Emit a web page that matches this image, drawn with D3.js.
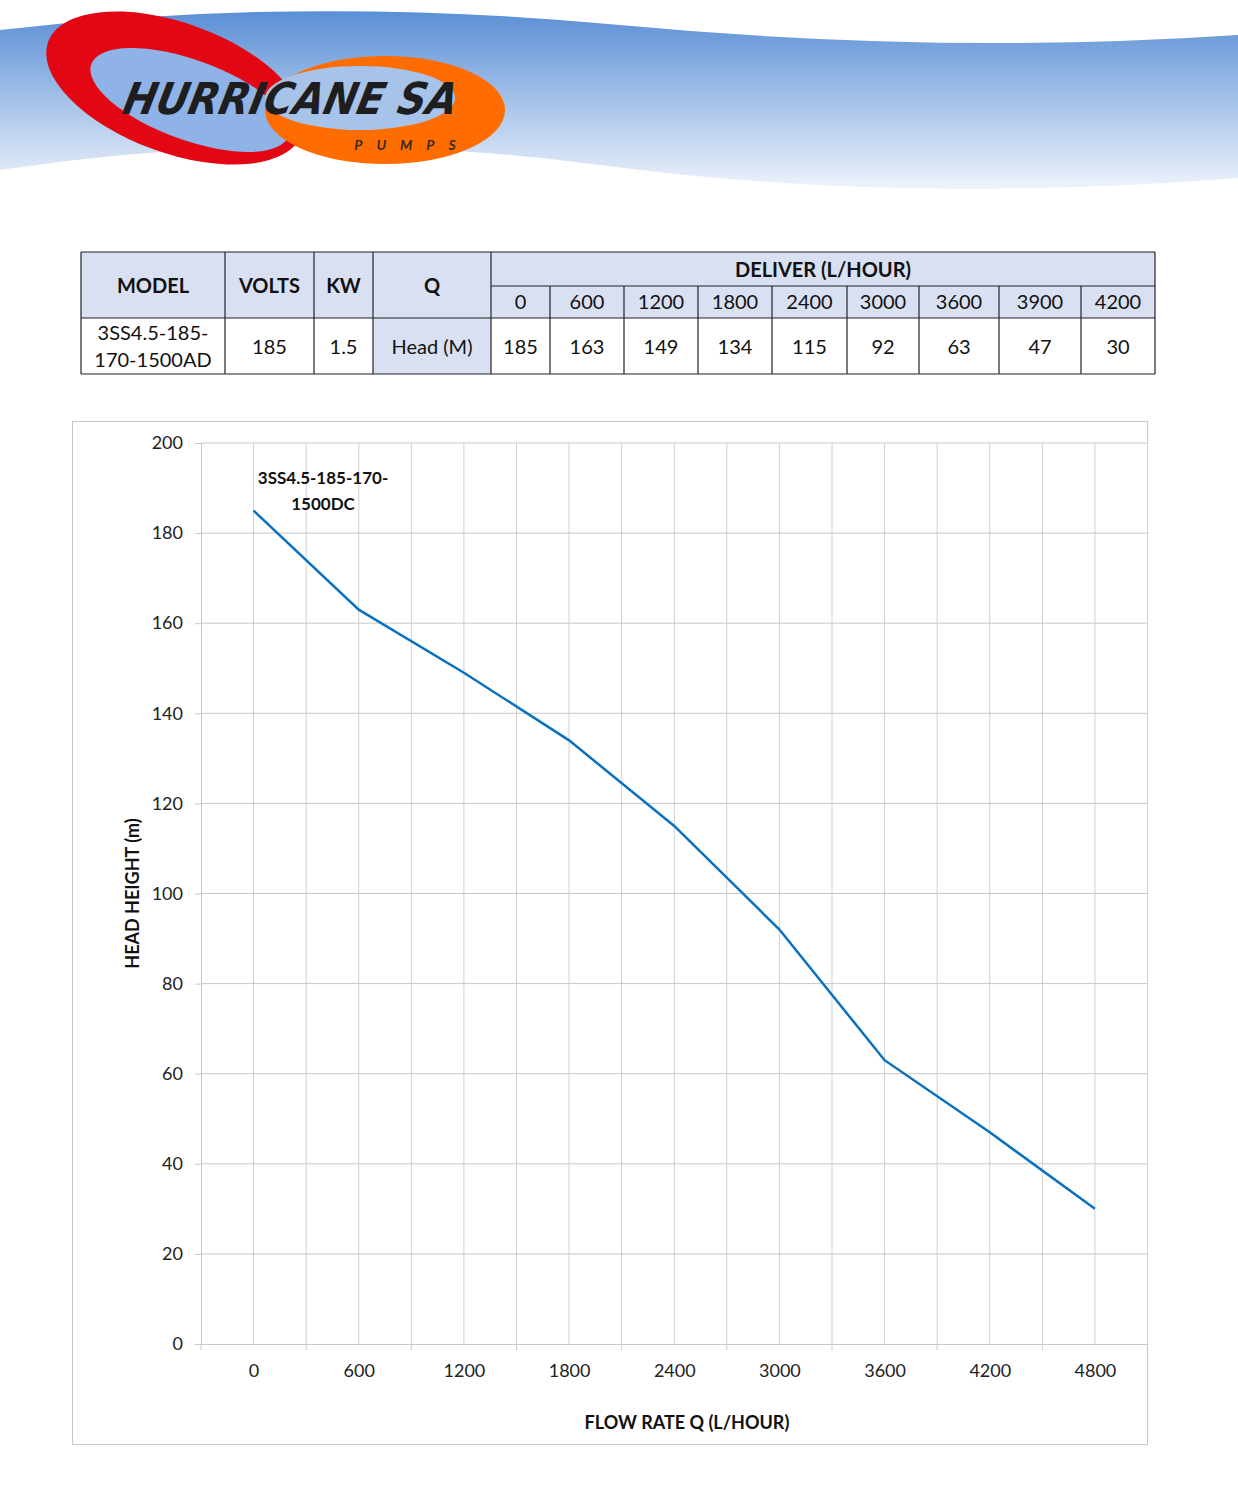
<!DOCTYPE html>
<html>
<head>
<meta charset="utf-8">
<script src="https://cdn.jsdelivr.net/npm/d3@7"></script>
<style>
  body { margin: 0; background: #fff; font-family: Lato, "Open Sans", sans-serif; }
  #page { position: relative; width: 1238px; height: 1500px; }
  svg { position: absolute; left: 0; top: 0; }
</style>
</head>
<body>
<div id="page"><svg id="chart" width="1238" height="1500"></svg></div>
<script>
// table data
const deliverLabels = ['0', '600', '1200', '1800', '2400', '3000', '3600', '3900', '4200'];
const headValues = [185, 163, 149, 134, 115, 92, 63, 47, 30];
// chart data
const flowPoints = [0, 600, 1200, 1800, 2400, 3000, 3600, 4200, 4800];
const yTicks = [0, 20, 40, 60, 80, 100, 120, 140, 160, 180, 200];
const seriesName = ['3SS4.5-185-170-', '1500DC'];

const svg = d3.select('#chart');
const defs = svg.append('defs');

// header band
const grad = defs.append('linearGradient').attr('id', 'sky').attr('x1', 0).attr('y1', 0).attr('x2', 0).attr('y2', 1);
grad.append('stop').attr('offset', '0%').attr('stop-color', '#5a8fd6');
grad.append('stop').attr('offset', '100%').attr('stop-color', '#eef3fb');
svg.append('path')
    .attr('d', 'M0,30 Q300,-5 620,25 T1238,35 L1238,178 Q900,205 600,165 T0,170 Z')
    .attr('fill', 'url(#sky)');

// logo
svg.append('ellipse').attr('cx', 175).attr('cy', 88).attr('rx', 135).attr('ry', 65)
    .attr('transform', 'rotate(20 175 88)').attr('fill', '#e30613');
svg.append('ellipse').attr('cx', 190).attr('cy', 100).attr('rx', 105).attr('ry', 40)
    .attr('transform', 'rotate(20 190 100)').attr('fill', '#8fb3e6');
svg.append('ellipse').attr('cx', 385).attr('cy', 110).attr('rx', 120).attr('ry', 54)
    .attr('fill', '#ff6d00');
svg.append('ellipse').attr('cx', 360).attr('cy', 98).attr('rx', 95).attr('ry', 32)
    .attr('fill', '#a8c3ea');
svg.append('text').attr('x', 288).attr('y', 114).attr('text-anchor', 'middle')
    .attr('font-size', 44).attr('font-weight', 900).attr('font-style', 'italic')
    .attr('fill', '#1e1e1e')
    .attr('transform', 'skewX(-12) translate(24,0)')
    .style('font-family', '"DejaVu Sans Condensed", sans-serif').text('HURRICANE SA');
svg.append('text').attr('x', 412).attr('y', 150).attr('text-anchor', 'middle')
    .attr('font-size', 14).attr('font-weight', 700).attr('font-style', 'italic')
    .attr('letter-spacing', 14).attr('fill', '#3a2a1a').text('PUMPS');

// spec table
const cols = [81, 225, 314, 373, 491, 550, 624, 698, 772, 847, 919, 999, 1081, 1155];
const rows = [252, 286, 318, 374];
const tg = svg.append('g');
const hdrFill = '#d9e0f1';
tg.append('rect').attr('x', cols[0]).attr('y', rows[0]).attr('width', cols[13] - cols[0]).attr('height', rows[2] - rows[0]).attr('fill', hdrFill);
tg.append('rect').attr('x', cols[3]).attr('y', rows[2]).attr('width', cols[4] - cols[3]).attr('height', rows[3] - rows[2]).attr('fill', hdrFill);
const line = (x1, y1, x2, y2) => tg.append('line').attr('x1', x1).attr('y1', y1).attr('x2', x2).attr('y2', y2).attr('stroke', '#222').attr('stroke-width', 1.2);
line(cols[0], rows[0], cols[13], rows[0]);
line(cols[4], rows[1], cols[13], rows[1]);
line(cols[0], rows[2], cols[13], rows[2]);
line(cols[0], rows[3], cols[13], rows[3]);
cols.forEach((c, i) => line(c, i >= 5 && i <= 12 ? rows[1] : rows[0], c, rows[3]));
const cellText = (x, y, t, bold) => tg.append('text').attr('x', x).attr('y', y).attr('text-anchor', 'middle')
    .attr('font-size', 20).attr('font-weight', bold ? 700 : 400).attr('fill', '#111').text(t);
const mid = i => (cols[i] + cols[i + 1]) / 2;
cellText(mid(0), 293, 'MODEL', true);
cellText(mid(1), 293, 'VOLTS', true);
cellText(mid(2), 293, 'KW', true);
cellText(mid(3), 293, 'Q', true);
cellText((cols[4] + cols[13]) / 2, 277, 'DELIVER (L/HOUR)', true);
deliverLabels.forEach((d, i) => cellText(mid(i + 4), 309, d));
cellText(mid(0), 340, '3SS4.5-185-');
cellText(mid(0), 367, '170-1500AD');
cellText(mid(1), 354, '185');
cellText(mid(2), 354, '1.5');
cellText(mid(3), 354, 'Head (M)');
headValues.forEach((v, i) => cellText(mid(i + 4), 354, v));

// chart frame
svg.append('rect').attr('x', 72.5).attr('y', 421.5).attr('width', 1075).attr('height', 1023)
    .attr('fill', 'none').attr('stroke', '#c8c8c8');

const x = d3.scaleLinear().domain([-300, 5100]).range([201, 1147.5]);
const y = d3.scaleLinear().domain([0, 200]).range([1344, 443]);

// gridlines
svg.append('g').selectAll('line').data(d3.range(0, 5101, 300)).join('line')
    .attr('x1', d => x(d)).attr('x2', d => x(d)).attr('y1', y(200)).attr('y2', y(0))
    .attr('stroke', '#d0d0d0');
svg.append('g').selectAll('line').data(yTicks.slice(1)).join('line')
    .attr('x1', x(-300)).attr('x2', x(5100)).attr('y1', d => y(d)).attr('y2', d => y(d))
    .attr('stroke', '#c8c8c8');

// axes
const yAxis = svg.append('g').attr('transform', `translate(${x(-300)},0)`)
    .call(d3.axisLeft(y).tickValues(yTicks).tickSize(6).tickPadding(12));
yAxis.select('.domain').attr('stroke', '#c8c8c8');
yAxis.selectAll('.tick line').attr('stroke', '#c8c8c8');
yAxis.selectAll('text').attr('font-size', 18).attr('fill', '#222').style('font-family', 'Lato, sans-serif');

const xAxis = svg.append('g').attr('transform', `translate(0,${y(0)})`)
    .call(d3.axisBottom(x).tickValues(flowPoints).tickFormat(d3.format('d')).tickSize(0).tickPadding(20));
xAxis.select('.domain').attr('stroke', '#c8c8c8');
xAxis.selectAll('text').attr('font-size', 18).attr('fill', '#222').style('font-family', 'Lato, sans-serif');
svg.append('g').selectAll('line').data(d3.range(-300, 5101, 600)).join('line')
    .attr('x1', d => x(d)).attr('x2', d => x(d)).attr('y1', y(0)).attr('y2', y(0) + 6)
    .attr('stroke', '#c8c8c8');

// series line
svg.append('path')
    .datum(flowPoints.map((f, i) => [f, headValues[i]]))
    .attr('fill', 'none').attr('stroke', '#0a70c0').attr('stroke-width', 2.5)
    .attr('d', d3.line().x(d => x(d[0])).y(d => y(d[1])));

// series label
seriesName.forEach((s, i) => svg.append('text').attr('x', 323).attr('y', 484 + i * 26)
    .attr('text-anchor', 'middle').attr('font-size', 17).attr('font-weight', 700).attr('fill', '#111').text(s));

// axis titles
svg.append('text').attr('x', 687).attr('y', 1429).attr('text-anchor', 'middle')
    .attr('font-size', 18).attr('font-weight', 700).attr('fill', '#111').text('FLOW RATE Q (L/HOUR)');
svg.append('text').attr('transform', `translate(139,${y(100)}) rotate(-90)`).attr('text-anchor', 'middle')
    .attr('font-size', 18).attr('font-weight', 700).attr('fill', '#111').text('HEAD HEIGHT (m)');
</script>
</body>
</html>
